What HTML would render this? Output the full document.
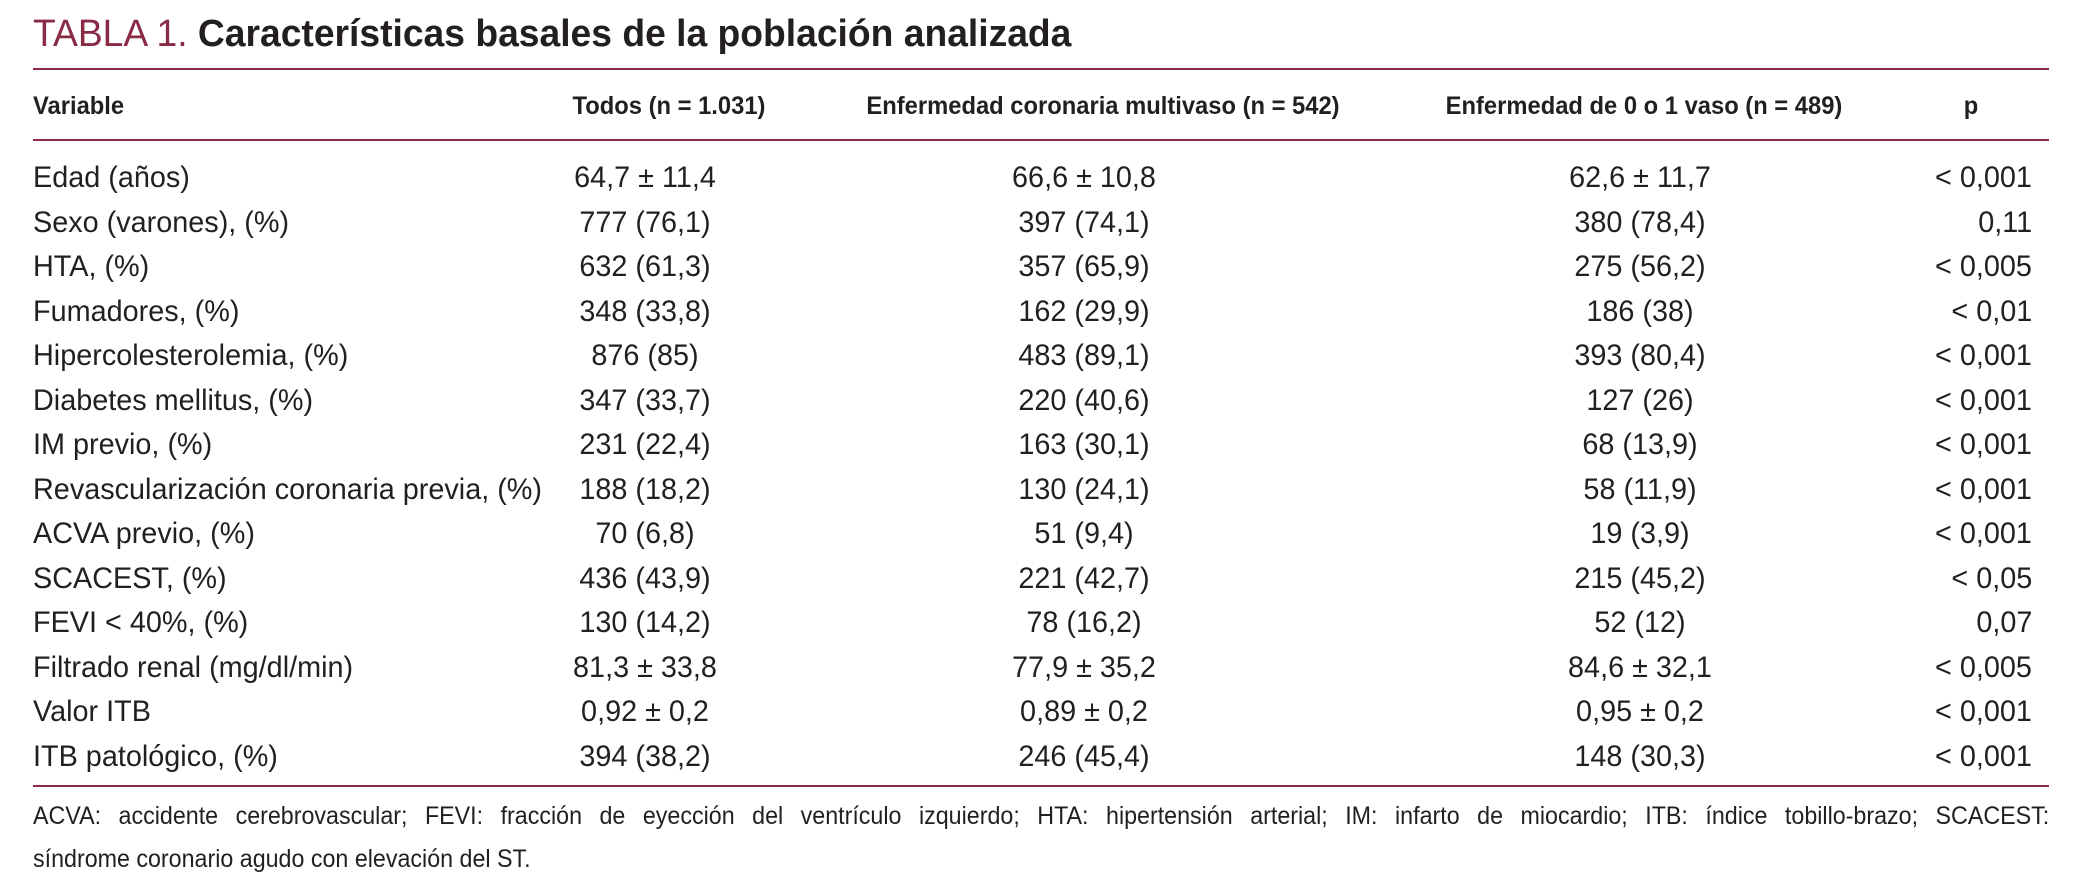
<!DOCTYPE html>
<html><head><meta charset="utf-8">
<style>
html,body{margin:0;padding:0;background:#fff;}
#page{position:relative;width:2083px;height:895px;overflow:hidden;font-family:"Liberation Sans",Arial,sans-serif;color:#231f20;}
.t{position:absolute;white-space:nowrap;line-height:1;}
.rule{position:absolute;left:33px;width:2016px;height:2px;background:#8a2b45;}
</style></head><body>
<div id="page">
  <div class="t" id="title" style="left:33px;top:15px;font-size:38px;transform:scaleX(0.98);transform-origin:left center;"><span style="color:#8a2b45">TABLA 1.</span> <b>Características basales de la población analizada</b></div>
  <div class="rule" style="top:68px"></div>
  <div class="rule" style="top:139px"></div>
  <div class="rule" style="top:785px"></div>
  <div class="t" style="left:33px;top:804px;font-size:25px;transform:scaleX(0.93);transform-origin:left center;width:2168px;text-align:justify;text-align-last:justify;">ACVA: accidente cerebrovascular; FEVI: fracción de eyección del ventrículo izquierdo; HTA: hipertensión arterial; IM: infarto de miocardio; ITB: índice tobillo-brazo; SCACEST:</div>
  <div class="t" style="left:33px;top:847px;font-size:25px;transform:scaleX(0.93);transform-origin:left center;">síndrome coronario agudo con elevación del ST.</div>
</div>
<script>
const headers = ["Variable","Todos (n = 1.031)","Enfermedad coronaria multivaso (n = 542)","Enfermedad de 0 o 1 vaso (n = 489)","p"];
const variables = ["Edad (años)","Sexo (varones), (%)","HTA, (%)","Fumadores, (%)","Hipercolesterolemia, (%)","Diabetes mellitus, (%)","IM previo, (%)","Revascularización coronaria previa, (%)","ACVA previo, (%)","SCACEST, (%)","FEVI < 40%, (%)","Filtrado renal (mg/dl/min)","Valor ITB","ITB patológico, (%)"];
const todos = ["64,7 ± 11,4","777 (76,1)","632 (61,3)","348 (33,8)","876 (85)","347 (33,7)","231 (22,4)","188 (18,2)","70 (6,8)","436 (43,9)","130 (14,2)","81,3 ± 33,8","0,92 ± 0,2","394 (38,2)"];
const multivaso = ["66,6 ± 10,8","397 (74,1)","357 (65,9)","162 (29,9)","483 (89,1)","220 (40,6)","163 (30,1)","130 (24,1)","51 (9,4)","221 (42,7)","78 (16,2)","77,9 ± 35,2","0,89 ± 0,2","246 (45,4)"];
const vaso01 = ["62,6 ± 11,7","380 (78,4)","275 (56,2)","186 (38)","393 (80,4)","127 (26)","68 (13,9)","58 (11,9)","19 (3,9)","215 (45,2)","52 (12)","84,6 ± 32,1","0,95 ± 0,2","148 (30,3)"];
const pvals = ["< 0,001","0,11","< 0,005","< 0,01","< 0,001","< 0,001","< 0,001","< 0,001","< 0,001","< 0,05","0,07","< 0,005","< 0,001","< 0,001"];

const page = document.getElementById('page');
function put(text, x, y, size, align, bold, sx, name){
  const el = document.createElement('div');
  el.className = 't';
  el.textContent = text;
  el.style.fontSize = size + 'px';
  el.style.top = (y - size*0.5) + 'px';
  if (bold) el.style.fontWeight = 'bold';
  if (align === 'left'){ el.style.left = x+'px'; el.style.transformOrigin='left center'; el.style.transform='scaleX('+sx+')'; }
  else if (align === 'center'){ el.style.left = x+'px'; el.style.transformOrigin='left center'; el.style.transform='scaleX('+sx+') translateX(-50%)'; }
  else { el.style.right = (2083-x)+'px'; el.style.transformOrigin='right center'; el.style.transform='scaleX('+sx+')'; }
  
  
  page.appendChild(el);
}
const hY = 106, HS = 25, HX = 0.95;
put(headers[0], 33, hY, HS, 'left', true, HX, 'header-variable');
put(headers[1], 669, hY, HS, 'center', true, HX, 'header-todos');
put(headers[2], 1103, hY, HS, 'center', true, HX, 'header-multivaso');
put(headers[3], 1644, hY, HS, 'center', true, HX, 'header-0-1-vaso');
put(headers[4], 1971, hY, HS, 'center', true, HX, 'header-p');
const y0 = 178, pitch = 44.5, DS = 30, DX = 0.96;
variables.forEach((v,i)=>{
  const y = y0 + i*pitch;
  put(v, 33, y, DS, 'left', false, DX, 'row-label');
  put(todos[i], 645, y, DS, 'center', false, DX, 'cell-todos');
  put(multivaso[i], 1084, y, DS, 'center', false, DX, 'cell-multivaso');
  put(vaso01[i], 1640, y, DS, 'center', false, DX, 'cell-0-1-vaso');
  put(pvals[i], 2032, y, DS, 'right', false, DX, 'cell-p');
});
</script>
</body></html>
